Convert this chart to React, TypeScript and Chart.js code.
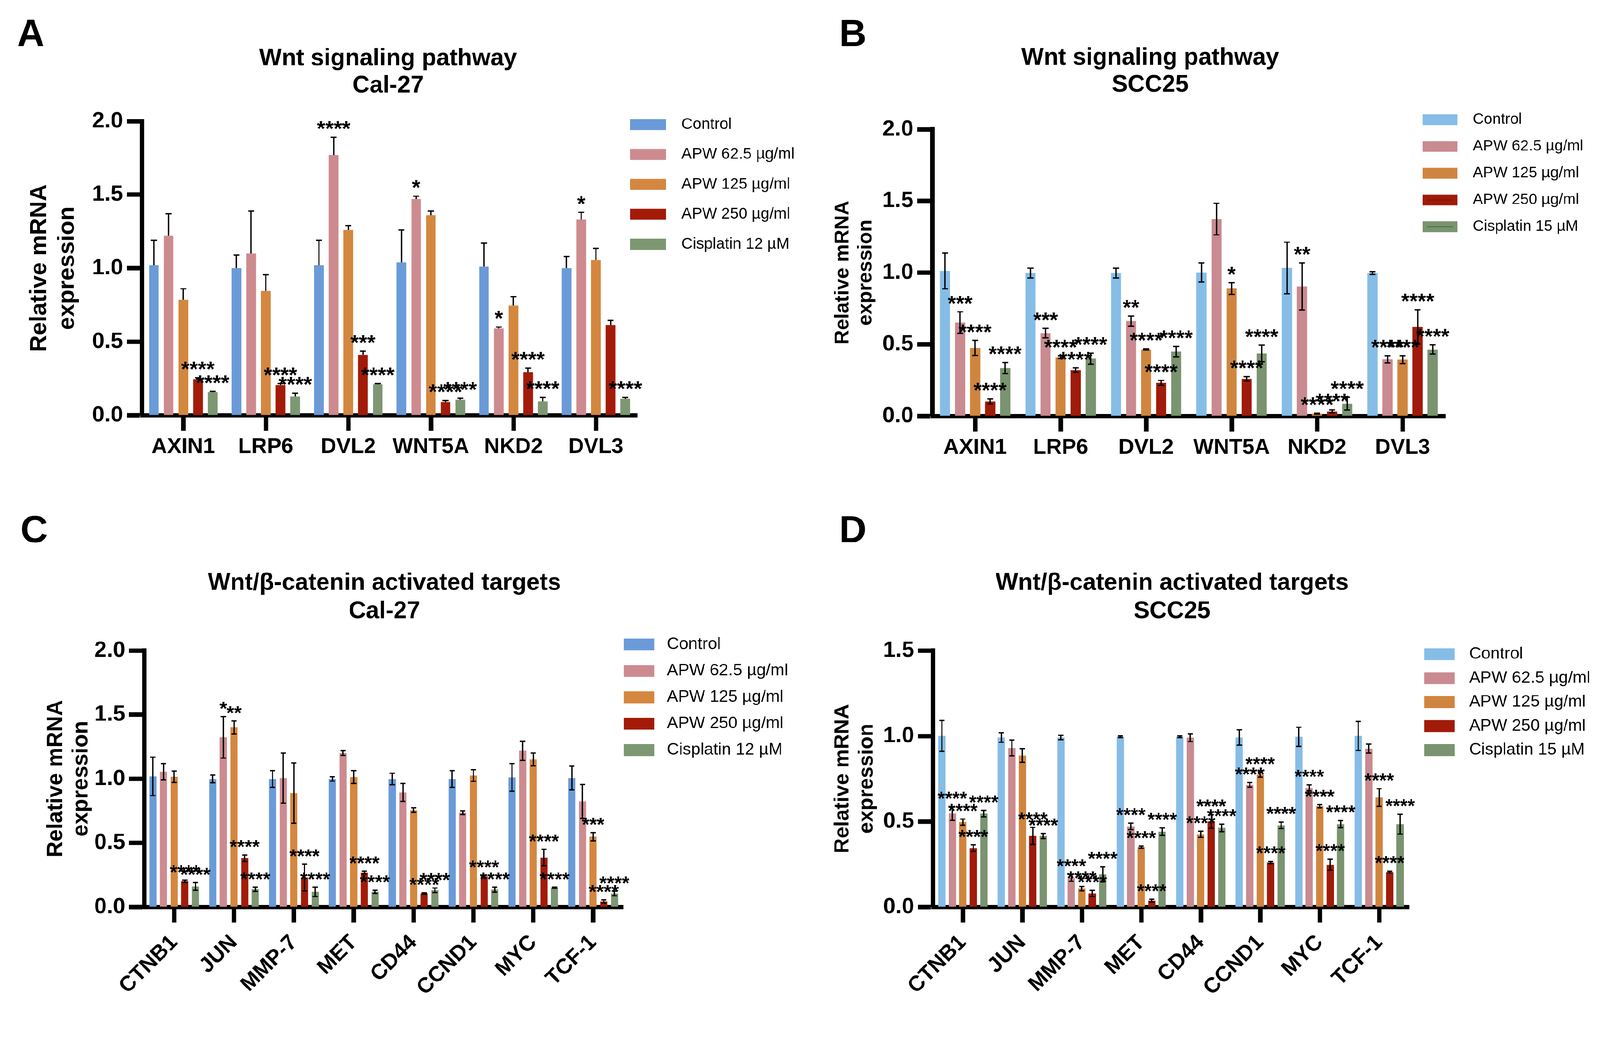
import React, { useEffect, useRef } from 'react';
import { Chart, registerables } from 'chart.js';

Chart.register(...registerables);

const FONT = '"Liberation Sans", Arial, Helvetica, sans-serif';
const FIG_W = 4304;
const FIG_H = 2673;

// categories
const wntGenes = ['AXIN1', 'LRP6', 'DVL2', 'WNT5A', 'NKD2', 'DVL3'];
const targetGenes = ['CTNB1', 'JUN', 'MMP-7', 'MET', 'CD44', 'CCND1', 'MYC', 'TCF-1'];

// treatment groups
const calGroups = ['Control', 'APW 62.5 µg/ml', 'APW 125 µg/ml', 'APW 250 µg/ml', 'Cisplatin 12 µM'];
const sccGroups = ['Control', 'APW 62.5 µg/ml', 'APW 125 µg/ml', 'APW 250 µg/ml', 'Cisplatin 15 µM'];

const calColors = ['#6A9BD8', '#CD8B90', '#D4873F', '#A31B08', '#7D9773'];
const sccColors = ['#86BDE7', '#C98A90', '#D0853F', '#A01B09', '#7A9370'];

// A: Wnt signaling pathway, Cal-27 (rows = groups, columns = genes)
const calWntMean = [
  [1.02, 1.0, 1.02, 1.04, 1.01, 1.0],
  [1.22, 1.1, 1.77, 1.47, 0.59, 1.33],
  [0.785, 0.845, 1.26, 1.36, 0.745, 1.055],
  [0.245, 0.205, 0.41, 0.09, 0.293, 0.614],
  [0.157, 0.126, 0.21, 0.105, 0.094, 0.111],
];
const calWntErr = [
  [0.17, 0.09, 0.17, 0.22, 0.16, 0.08],
  [0.15, 0.29, 0.12, 0.02, 0.01, 0.05],
  [0.075, 0.11, 0.03, 0.03, 0.06, 0.08],
  [0.01, 0.01, 0.025, 0.01, 0.027, 0.03],
  [0.005, 0.024, 0.005, 0.01, 0.026, 0.009],
];
const calWntSig = [
  ['', '', '', '', '', ''],
  ['', '', '****', '*', '*', '*'],
  ['', '', '', '', '', ''],
  ['****', '****', '***', '****', '****', ''],
  ['****', '****', '****', '****', '****', '****'],
];

// B: Wnt signaling pathway, SCC25
const sccWntMean = [
  [1.012, 0.997, 0.997, 1.001, 1.033, 0.997],
  [0.652, 0.578, 0.662, 1.374, 0.904, 0.395],
  [0.475, 0.41, 0.464, 0.889, 0.015, 0.393],
  [0.101, 0.32, 0.231, 0.259, 0.032, 0.621],
  [0.334, 0.4, 0.449, 0.436, 0.086, 0.464],
];
const sccWntErr = [
  [0.125, 0.034, 0.034, 0.067, 0.18, 0.01],
  [0.075, 0.033, 0.035, 0.11, 0.164, 0.025],
  [0.053, 0.01, 0.005, 0.04, 0.003, 0.027],
  [0.018, 0.015, 0.017, 0.015, 0.011, 0.12],
  [0.039, 0.038, 0.036, 0.058, 0.044, 0.032],
];
const sccWntSig = [
  ['', '', '', '', '', ''],
  ['***', '***', '**', '', '**', '****'],
  ['****', '****', '****', '*', '****', '****'],
  ['****', '****', '****', '****', '****', '****'],
  ['****', '****', '****', '****', '****', '****'],
];

// C: Wnt/β-catenin activated targets, Cal-27
const calTgtMean = [
  [1.018, 0.998, 0.998, 0.998, 0.998, 0.998, 1.01, 1.005],
  [1.055, 1.323, 1.005, 1.2, 0.893, 0.735, 1.218, 0.823],
  [1.015, 1.4, 0.888, 1.013, 0.755, 1.025, 1.15, 0.548],
  [0.2, 0.38, 0.23, 0.268, 0.105, 0.238, 0.385, 0.043],
  [0.16, 0.138, 0.118, 0.118, 0.13, 0.135, 0.15, 0.105],
];
const calTgtErr = [
  [0.15, 0.03, 0.065, 0.017, 0.045, 0.065, 0.108, 0.093],
  [0.063, 0.162, 0.195, 0.018, 0.07, 0.015, 0.075, 0.132],
  [0.045, 0.05, 0.235, 0.05, 0.018, 0.045, 0.05, 0.032],
  [0.01, 0.025, 0.105, 0.012, 0.005, 0.01, 0.065, 0.012],
  [0.03, 0.017, 0.037, 0.012, 0.018, 0.02, 0.005, 0.018],
];
const calTgtSig = [
  ['', '', '', '', '', '', '', ''],
  ['', '*', '', '', '', '', '', ''],
  ['', '**', '', '', '', '', '', '***'],
  ['****', '****', '****', '****', '****', '****', '****', '****'],
  ['****', '****', '****', '****', '****', '****', '****', '****'],
];

// D: Wnt/β-catenin activated targets, SCC25
const sccTgtMean = [
  [1.0, 0.991, 0.991, 0.995, 0.995, 0.991, 0.995, 1.0],
  [0.546, 0.93, 0.17, 0.471, 0.99, 0.714, 0.696, 0.926],
  [0.496, 0.886, 0.107, 0.35, 0.425, 0.774, 0.589, 0.64],
  [0.344, 0.415, 0.079, 0.037, 0.5, 0.26, 0.247, 0.204],
  [0.546, 0.415, 0.19, 0.44, 0.462, 0.477, 0.484, 0.484],
];
const sccTgtErr = [
  [0.09, 0.028, 0.013, 0.005, 0.005, 0.045, 0.056, 0.085],
  [0.04, 0.046, 0.02, 0.019, 0.023, 0.013, 0.018, 0.026],
  [0.018, 0.04, 0.013, 0.006, 0.018, 0.015, 0.009, 0.052],
  [0.019, 0.05, 0.018, 0.008, 0.04, 0.006, 0.032, 0.005],
  [0.019, 0.015, 0.044, 0.022, 0.022, 0.019, 0.021, 0.058],
];
const sccTgtSig = [
  ['', '', '', '', '', '', '', ''],
  ['****', '', '****', '****', '', '****', '****', ''],
  ['****', '', '****', '****', '****', '****', '****', '****'],
  ['****', '****', '****', '****', '****', '****', '****', '****'],
  ['****', '****', '****', '****', '****', '****', '****', '****'],
];

type Panel = {
  letter: string;
  left: number;
  top: number;
  width: number;
  height: number;
  title: string[];
  titleX: number;
  titleY: number[];
  letterX: number;
  letterY: number;
  labels: string[];
  groups: string[];
  colors: string[];
  mean: number[][];
  err: number[][];
  sig: string[][];
  yMax: number;
  area: { left: number; right: number; top: number; bottom: number };
  upperOnly: boolean;
  rotate: number;
  catPct: number;
  barPct: number;
  cap: number;
  starSize: number;
  starGap: number;
  axisTitle: { x: number; size: number; lh: number };
  legend: { x: number; w: number; h: number; y0: number; dy: number; tx: number; size: number; lines?: boolean };
};

const panels: Panel[] = [
  {
    letter: 'A', left: 0, top: 0, width: 2152, height: 1336,
    title: ['Wnt signaling pathway', 'Cal-27'], titleX: 1044, titleY: [176, 249],
    letterX: 46, letterY: 124,
    labels: wntGenes, groups: calGroups, colors: calColors,
    mean: calWntMean, err: calWntErr, sig: calWntSig, yMax: 2,
    area: { left: 382, right: 1714, top: 326, bottom: 1117 },
    upperOnly: true, rotate: 0, catPct: 0.89, barPct: 0.66, cap: 8,
    starSize: 58, starGap: 37,
    axisTitle: { x: 107, size: 63, lh: 1.18 },
    legend: { x: 1695, w: 97, h: 30, y0: 335, dy: 80.5, tx: 1833, size: 42 },
  },
  {
    letter: 'B', left: 2152, top: 0, width: 2152, height: 1336,
    title: ['Wnt signaling pathway', 'SCC25'], titleX: 942, titleY: [174, 247],
    letterX: 105, letterY: 124,
    labels: wntGenes, groups: sccGroups, colors: sccColors,
    mean: sccWntMean, err: sccWntErr, sig: sccWntSig, yMax: 2,
    area: { left: 356, right: 1736, top: 348, bottom: 1119 },
    upperOnly: false, rotate: 0, catPct: 0.88, barPct: 0.68, cap: 8,
    starSize: 57, starGap: 36,
    axisTitle: { x: 115, size: 54, lh: 1.15 },
    legend: { x: 1675, w: 93, h: 29, y0: 322, dy: 72, tx: 1810, size: 41, lines: true },
  },
  {
    letter: 'C', left: 0, top: 1336, width: 2152, height: 1337,
    title: ['Wnt/β-catenin activated targets', 'Cal-27'], titleX: 1034, titleY: [251, 327],
    letterX: 55, letterY: 123,
    labels: targetGenes, groups: calGroups, colors: calColors,
    mean: calTgtMean, err: calTgtErr, sig: calTgtSig, yMax: 2,
    area: { left: 388, right: 1676, top: 414, bottom: 1104 },
    upperOnly: false, rotate: 45, catPct: 0.89, barPct: 0.67, cap: 7,
    starSize: 52, starGap: 34,
    axisTitle: { x: 151, size: 59, lh: 1.15 },
    legend: { x: 1678, w: 82, h: 32, y0: 398, dy: 71, tx: 1794, size: 45 },
  },
  {
    letter: 'D', left: 2152, top: 1336, width: 2152, height: 1337,
    title: ['Wnt/β-catenin activated targets', 'SCC25'], titleX: 1001, titleY: [251, 327],
    letterX: 105, letterY: 123,
    labels: targetGenes, groups: sccGroups, colors: sccColors,
    mean: sccTgtMean, err: sccTgtErr, sig: sccTgtSig, yMax: 1.5,
    area: { left: 358, right: 1638, top: 414, bottom: 1104 },
    upperOnly: false, rotate: 45, catPct: 0.88, barPct: 0.7, cap: 7,
    starSize: 51, starGap: 34,
    axisTitle: { x: 115, size: 56, lh: 1.15 },
    legend: { x: 1679, w: 82, h: 32, y0: 424, dy: 64.5, tx: 1800, size: 45 },
  },
];

const BarPanel: React.FC<{ p: Panel }> = ({ p }) => {
  const canvasRef = useRef<HTMLCanvasElement>(null);

  useEffect(() => {
    if (!canvasRef.current) return;

    // error bars, asterisks, legend and titles drawn on top of the bars
    const extras = {
      id: 'panelExtras',
      afterDatasetsDraw(chart: any) {
        const { ctx } = chart;
        const yScale = chart.scales.y;
        ctx.save();
        ctx.strokeStyle = '#000';
        ctx.fillStyle = '#000';
        ctx.lineWidth = 3.5;
        p.mean.forEach((vals, i) => {
          const meta = chart.getDatasetMeta(i);
          meta.data.forEach((bar: any, j: number) => {
            const m = vals[j];
            const e = p.err[i][j];
            const x = bar.x;
            const yTop = yScale.getPixelForValue(m + e);
            const yBot = p.upperOnly ? bar.y : yScale.getPixelForValue(Math.max(m - e, 0));
            ctx.beginPath();
            ctx.moveTo(x, yBot);
            ctx.lineTo(x, yTop);
            ctx.moveTo(x - p.cap, yTop);
            ctx.lineTo(x + p.cap, yTop);
            if (!p.upperOnly) {
              ctx.moveTo(x - p.cap, yBot);
              ctx.lineTo(x + p.cap, yBot);
            }
            ctx.stroke();
          });
        });
        ctx.font = `bold ${p.starSize}px ${FONT}`;
        ctx.textAlign = 'center';
        ctx.textBaseline = 'alphabetic';
        p.sig.forEach((row, i) => {
          const meta = chart.getDatasetMeta(i);
          row.forEach((s, j) => {
            if (!s) return;
            const bar: any = meta.data[j];
            const yTop = yScale.getPixelForValue(p.mean[i][j] + p.err[i][j]);
            ctx.fillText(s, bar.x, yTop - p.starGap + 0.58 * p.starSize);
          });
        });
        ctx.restore();
      },
      afterDraw(chart: any) {
        const { ctx } = chart;
        ctx.save();
        ctx.fillStyle = '#000';
        ctx.textBaseline = 'alphabetic';
        ctx.textAlign = 'left';
        ctx.font = `bold 102px ${FONT}`;
        ctx.fillText(p.letter, p.letterX, p.letterY);

        ctx.textAlign = 'center';
        ctx.font = `bold 64px ${FONT}`;
        p.title.forEach((t, k) => ctx.fillText(t, p.titleX, p.titleY[k]));

        const L = p.legend;
        chart.data.datasets.forEach((ds: any, i: number) => {
          const cy = L.y0 + L.dy * i;
          ctx.fillStyle = ds.backgroundColor;
          ctx.fillRect(L.x, cy - L.h / 2, L.w, L.h);
          if (L.lines && i >= 3) {
            ctx.strokeStyle = i === 3 ? '#8C1607' : '#4E7C48';
            ctx.lineWidth = 4;
            ctx.beginPath();
            ctx.moveTo(L.x + 12, cy);
            ctx.lineTo(L.x + L.w - 12, cy);
            ctx.stroke();
          }
          ctx.fillStyle = '#000';
          ctx.font = `${L.size}px ${FONT}`;
          ctx.textAlign = 'left';
          ctx.textBaseline = 'middle';
          ctx.fillText(ds.label, L.tx, cy);
        });
        ctx.restore();
      },
    };

    const titleLine = p.axisTitle.size * p.axisTitle.lh;

    const chart = new Chart(canvasRef.current, {
      type: 'bar',
      data: {
        labels: p.labels,
        datasets: p.groups.map((name, i) => ({
          label: name,
          data: p.mean[i],
          backgroundColor: p.colors[i],
          borderWidth: 0,
          categoryPercentage: p.catPct,
          barPercentage: p.barPct,
        })),
      },
      options: {
        responsive: false,
        animation: false,
        layout: {
          padding: { left: 0, top: p.area.top, right: p.width - p.area.right, bottom: 0 },
        },
        plugins: {
          legend: { display: false },
          title: { display: false },
          tooltip: { enabled: false },
        },
        scales: {
          x: {
            type: 'category',
            offset: true,
            grid: {
              offset: false,
              drawOnChartArea: false,
              drawTicks: true,
              tickLength: 42,
              tickWidth: 12,
              tickColor: '#000',
            },
            border: { display: true, color: '#000', width: 11 },
            ticks: {
              color: '#000',
              font: { family: FONT, size: 58, weight: 'bold' },
              padding: p.rotate ? 20 : 9,
              maxRotation: p.rotate,
              minRotation: p.rotate,
              autoSkip: false,
            },
            afterFit: (scale: any) => {
              scale.height = p.height - p.area.bottom;
            },
          },
          y: {
            min: 0,
            max: p.yMax,
            grid: {
              drawOnChartArea: false,
              drawTicks: true,
              tickLength: 41,
              tickWidth: 12,
              tickColor: '#000',
            },
            border: { display: true, color: '#000', width: 12 },
            ticks: {
              stepSize: 0.5,
              padding: 10,
              color: '#000',
              font: { family: FONT, size: 60, weight: 'bold' },
              callback: (v: any) => Number(v).toFixed(1),
            },
            title: {
              display: true,
              text: ['Relative mRNA', 'expression'],
              color: '#000',
              font: { family: FONT, size: p.axisTitle.size, weight: 'bold', lineHeight: p.axisTitle.lh },
              padding: { top: p.axisTitle.x - titleLine / 2, bottom: 0 },
            },
            afterFit: (scale: any) => {
              scale.width = p.area.left;
            },
          },
        },
      } as any,
      plugins: [extras],
    });

    return () => {
      chart.destroy();
    };
  }, [p]);

  return (
    <canvas
      ref={canvasRef}
      width={p.width}
      height={p.height}
      style={{ position: 'absolute', left: p.left, top: p.top, width: p.width, height: p.height }}
    />
  );
};

const App: React.FC = () => {
  // fit the 4304 px wide figure into whatever CSS width the window really has
  const viewW = typeof window !== 'undefined' && window.innerWidth ? window.innerWidth : FIG_W;
  const scale = Math.min(viewW / FIG_W, 1);

  useEffect(() => {
    document.body.style.margin = '0';
    document.documentElement.style.overflow = 'hidden';
    document.body.style.overflow = 'hidden';
  }, []);

  return (
    <div
      style={{
        position: 'absolute',
        left: 0,
        top: 0,
        width: FIG_W * scale,
        height: FIG_H * scale,
        overflow: 'hidden',
        background: '#fff',
      }}
    >
      <div
        style={{
          position: 'absolute',
          left: 0,
          top: 0,
          width: FIG_W,
          height: FIG_H,
          transform: `scale(${scale})`,
          transformOrigin: '0 0',
        }}
      >
        {panels.map((p) => (
          <BarPanel key={p.letter} p={p} />
        ))}
      </div>
    </div>
  );
};

export default App;
